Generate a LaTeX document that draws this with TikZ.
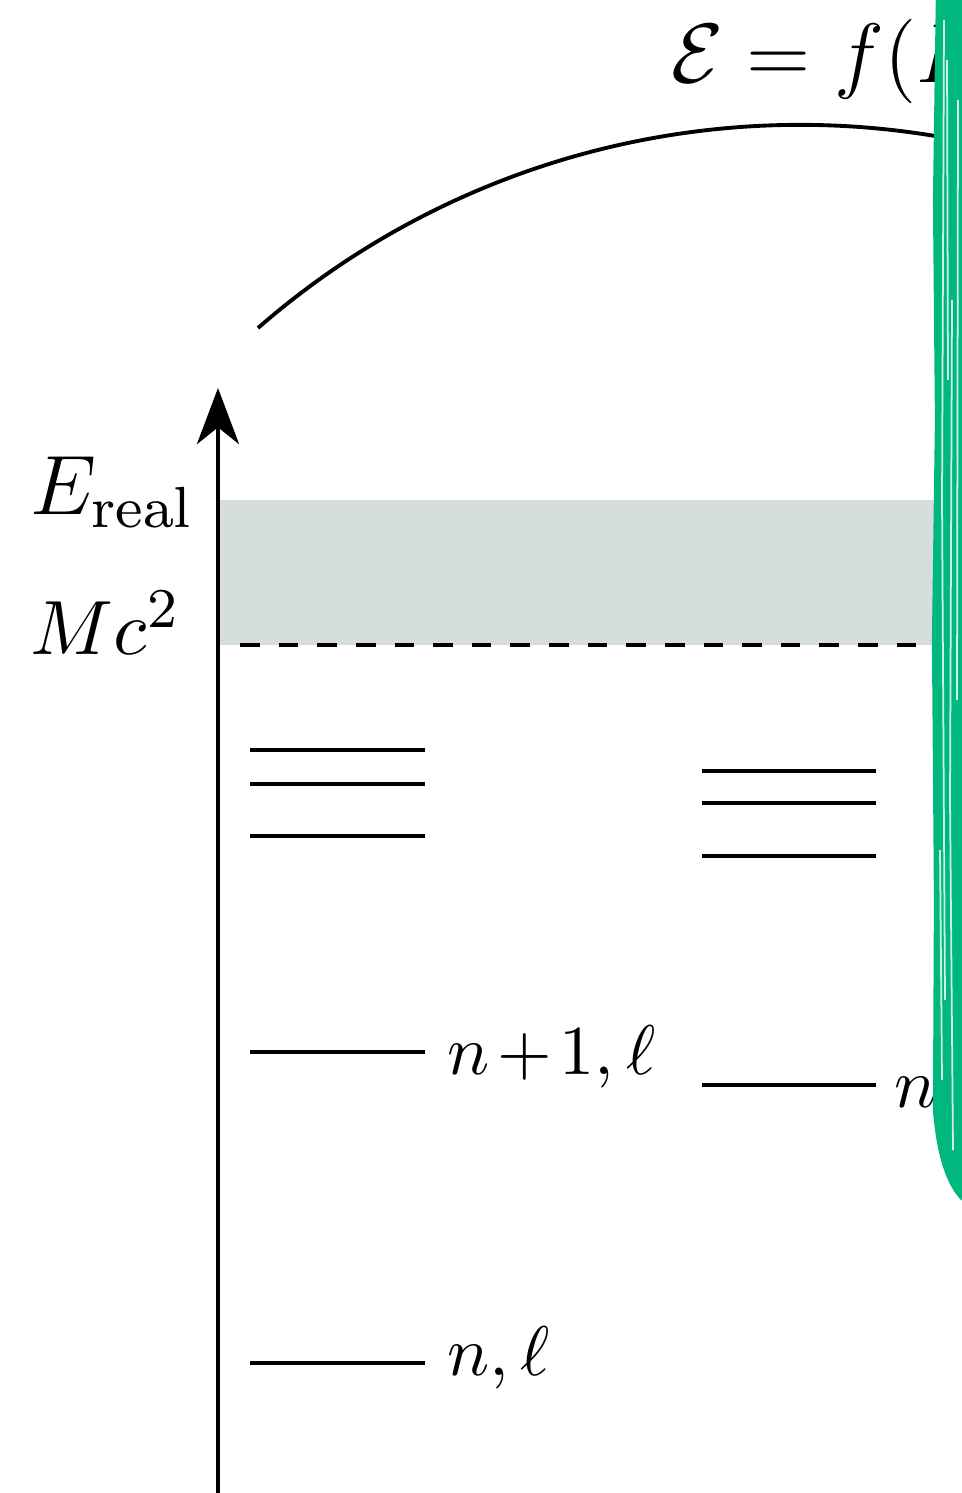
\documentclass[tikz,border=0pt]{standalone}
\usepackage{amsmath,amssymb}
\usepackage{tikz}
\usetikzlibrary{arrows.meta,positioning}
\definecolor{bandgray}{RGB}{214,221,221}
\definecolor{scrib}{RGB}{0,184,126}
\tikzset{
  axis/.style   = {-{Stealth[length=8pt,width=6pt,inset=2.4pt]}, line width=0.55pt},
  level/.style  = {line width=0.55pt},
  band/.style   = {fill=bandgray},
  mcline/.style = {line width=0.55pt, dash pattern=on 2.8pt off 2.7pt},
  arcline/.style= {line width=0.55pt},
  lab/.style    = {inner sep=0pt, font=\normalsize},
  scribble/.style = {fill=scrib, draw=scrib, line width=0.6pt},
  streak/.style = {draw=white, line width=0.25pt, opacity=0.8}
}
\begin{document}
\begin{tikzpicture}[x=0.005cm,y=-0.005cm]
  \useasboundingbox (0,0) rectangle (962,1493);
  \clip (0,0) rectangle (962,1493);
  % shaded band between Mc^2 and E_real
  \fill[band] (220,500) rectangle (940,645);
  \draw[mcline] (240,645) -- (940,645);
  % energy axis
  \coordinate (ax0) at (218,1500);
  \coordinate (ax1) at (218,388);
  \draw[axis] (ax0) -- (ax1);
  \node[lab, anchor=base east] (ereal) at (196,515) {\fontsize{11.8}{14}\selectfont$E_{\text{real}}$};
  \node[lab, anchor=base east] (mc2) at (182,655) {\fontsize{11}{13}\selectfont$Mc^2$};
  % left spectrum
  \draw[level] (250,750) -- (425,750);
  \draw[level] (250,784) -- (425,784);
  \draw[level] (250,836) -- (425,836);
  \draw[level] (250,1052) -- (425,1052);
  \draw[level] (250,1363) -- (425,1363);
  \node[lab, anchor=base west] (l1) at (446,1074) {$n\mkern-2mu+\mkern-2mu1,\ell$};
  \node[lab, anchor=base west] (l0) at (446,1375) {$n,\ell$};
  % right spectrum
  \draw[level] (702,771) -- (876,771);
  \draw[level] (702,803) -- (876,803);
  \draw[level] (702,856) -- (876,856);
  \draw[level] (702,1085) -- (876,1085);
  \node[lab, anchor=base west] (r1) at (893,1107) {$n\mkern-2mu+\mkern-2mu1,\ell$};
  % mapping arc and title
  \coordinate (arcstart) at (258,328);
  \draw[arcline] (arcstart) arc[start angle=131.1, end angle=70, radius=4.125cm];
  \node[lab, anchor=base west] (title) at (670,83) {\fontsize{11.5}{14}\selectfont$\mathcal{E} = f(E_{\text{real}})$};
  % green scribble over the right edge
  \fill[scribble] (938,-10) -- (935,200) -- (937,420) -- (934,640) -- (936,900) -- (935,1110)
    .. controls (939,1160) and (950,1185) .. (962,1198) -- (975,1198) -- (975,-10) -- cycle;
  \draw[streak] (944,20) -- (942,500) -- (945,1000);
  \draw[streak] (952,300) -- (950,800) -- (953,1150);
  \draw[streak] (958,100) -- (957,700);
  \draw[streak] (940,850) -- (942,1080);
  \draw[streak] (947,60) -- (948,380);
\end{tikzpicture}
\end{document}
